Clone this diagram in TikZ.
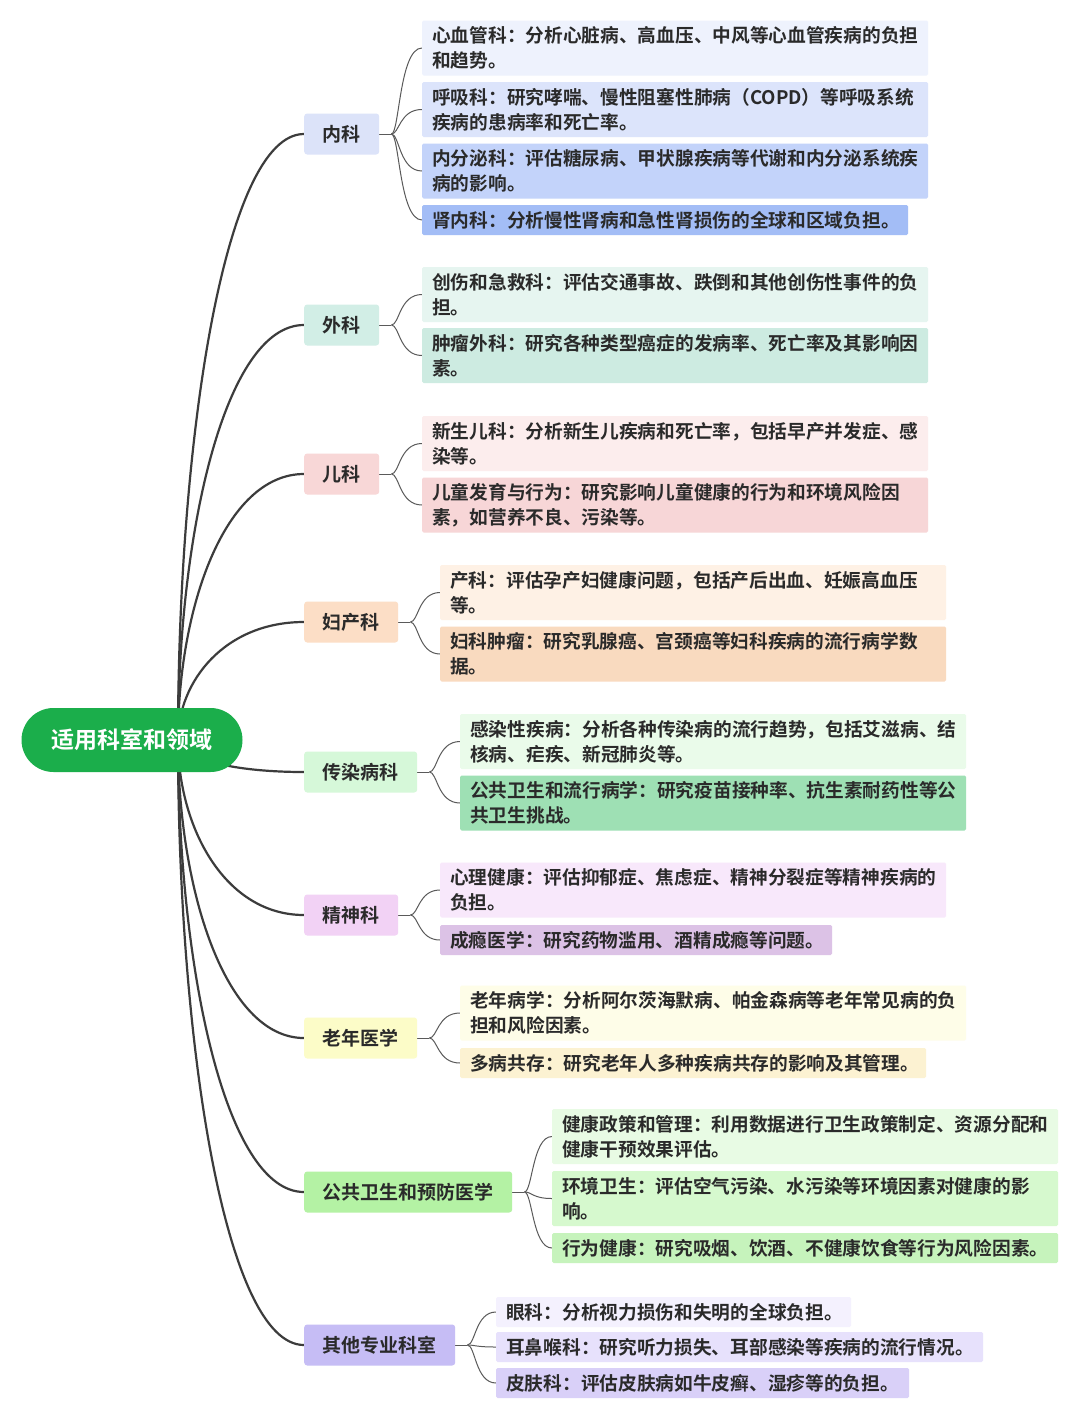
\documentclass[tikz,border=0pt]{standalone}
\usepackage{fontspec}
\setmainfont{Noto Sans CJK SC}[BoldFont={Noto Sans CJK SC Bold}]
\usetikzlibrary{calc}
\pgfdeclarelayer{back}
\pgfdeclarelayer{bg}
\pgfsetlayers{back,bg,main}
\definecolor{rootc}{HTML}{1BAE4B}
\definecolor{txt}{HTML}{2A2A2A}
\definecolor{trunkc}{HTML}{3C3C3C}
\definecolor{twigc}{HTML}{5A5A5A}
\definecolor{N1}{HTML}{DCE3F9}\definecolor{A1}{HTML}{EEF2FD}\definecolor{A2}{HTML}{DCE4FB}\definecolor{A3}{HTML}{C3D3FA}\definecolor{A4}{HTML}{A3BDF6}
\definecolor{N2}{HTML}{D2EEE6}\definecolor{B1}{HTML}{E6F5F0}\definecolor{B2}{HTML}{CDEBE1}
\definecolor{N3}{HTML}{F8D7D7}\definecolor{C1}{HTML}{FCEDED}\definecolor{C2}{HTML}{F7D6D7}
\definecolor{N4}{HTML}{FCDEC6}\definecolor{D1}{HTML}{FEF1E5}\definecolor{D2}{HTML}{F9DABF}
\definecolor{N5}{HTML}{D6F8D9}\definecolor{E1}{HTML}{EAFBEA}\definecolor{E2}{HTML}{9EE0B4}
\definecolor{N6}{HTML}{F2D2F5}\definecolor{F1}{HTML}{F8E8FB}\definecolor{F2}{HTML}{DCC2E6}
\definecolor{N7}{HTML}{FCFCC8}\definecolor{G1}{HTML}{FEFDE8}\definecolor{G2}{HTML}{FCF2D2}
\definecolor{N8}{HTML}{B4F2A4}\definecolor{H1}{HTML}{E8FBE4}\definecolor{H2}{HTML}{D6F9CE}\definecolor{H3}{HTML}{C6F3BC}
\definecolor{N9}{HTML}{C6BDF5}\definecolor{I1}{HTML}{F4F1FE}\definecolor{I2}{HTML}{E7E1FC}\definecolor{I3}{HTML}{D9D0F8}
\tikzset{
  rootbox/.style={rounded corners=32pt, fill=rootc, text=white, minimum width=221pt, minimum height=64pt, inner sep=0pt, font=\fontsize{23}{28}\selectfont\bfseries},
  topic/.style={anchor=west, rounded corners=3pt, inner xsep=18.5pt, inner ysep=0pt, minimum height=41pt, text=txt, font=\fontsize{19}{25}\selectfont\bfseries},
  leaf/.style={anchor=west, align=left, inner xsep=10pt, inner ysep=0pt, rounded corners=1.5pt, text=txt, font=\fontsize{18.7}{25}\selectfont\bfseries},
  two/.style={leaf, text width=486pt, minimum height=55pt},
  one/.style={leaf, text width=#1, minimum height=30pt},
  trunk/.style={draw=trunkc, line width=2.2pt},
  twig/.style={draw=twigc, line width=1pt},
}
\begin{document}
\begin{tikzpicture}[x=1pt,y=-1pt]
\begin{pgfonlayer}{back}
\fill[white] (0,0) rectangle (1080,1417);
\end{pgfonlayer}
\useasboundingbox (0,0) rectangle (1080,1417);
% root
\node[rootbox] (root) at (132,740) {适用科室和领域};
\coordinate (hub) at (178,740);
% topics
\node[topic, fill=N1] (n1) at (304,134) {内科};
\node[topic, fill=N2] (n2) at (304,325) {外科};
\node[topic, fill=N3] (n3) at (304,474) {儿科};
\node[topic, fill=N4] (n4) at (304,622) {妇产科};
\node[topic, fill=N5] (n5) at (304,772) {传染病科};
\node[topic, fill=N6] (n6) at (304,915) {精神科};
\node[topic, fill=N7] (n7) at (304,1038) {老年医学};
\node[topic, fill=N8] (n8) at (304,1192) {公共卫生和预防医学};
\node[topic, fill=N9] (n9) at (304,1345) {其他专业科室};
% leaves
\node[two, fill=A1] (a1) at (422,48) {心血管科：分析心脏病、高血压、中风等心血管疾病的负担\\和趋势。};
\node[two, fill=A2] (a2) at (422,109.5) {呼吸科：研究哮喘、慢性阻塞性肺病（COPD）等呼吸系统\\疾病的患病率和死亡率。};
\node[two, fill=A3] (a3) at (422,171) {内分泌科：评估糖尿病、甲状腺疾病等代谢和内分泌系统疾\\病的影响。};
\node[one=466pt, fill=A4] (a4) at (422,220) {肾内科：分析慢性肾病和急性肾损伤的全球和区域负担。};
\node[two, fill=B1] (b1) at (422,294.5) {创伤和急救科：评估交通事故、跌倒和其他创伤性事件的负\\担。};
\node[two, fill=B2] (b2) at (422,355.5) {肿瘤外科：研究各种类型癌症的发病率、死亡率及其影响因\\素。};
\node[two, fill=C1] (c1) at (422,443.5) {新生儿科：分析新生儿疾病和死亡率，包括早产并发症、感\\染等。};
\node[two, fill=C2] (c2) at (422,505) {儿童发育与行为：研究影响儿童健康的行为和环境风险因\\素，如营养不良、污染等。};
\node[two, fill=D1] (d1) at (440,592.5) {产科：评估孕产妇健康问题，包括产后出血、妊娠高血压\\等。};
\node[two, fill=D2] (d2) at (440,654) {妇科肿瘤：研究乳腺癌、宫颈癌等妇科疾病的流行病学数\\据。};
\node[two, fill=E1] (e1) at (460,741.5) {感染性疾病：分析各种传染病的流行趋势，包括艾滋病、结\\核病、疟疾、新冠肺炎等。};
\node[two, fill=E2] (e2) at (460,803) {公共卫生和流行病学：研究疫苗接种率、抗生素耐药性等公\\共卫生挑战。};
\node[two, fill=F1] (f1) at (440,890) {心理健康：评估抑郁症、焦虑症、精神分裂症等精神疾病的\\负担。};
\node[one=372pt, fill=F2] (f2) at (440,940) {成瘾医学：研究药物滥用、酒精成瘾等问题。};
\node[two, fill=G1] (g1) at (460,1013) {老年病学：分析阿尔茨海默病、帕金森病等老年常见病的负\\担和风险因素。};
\node[one=446pt, fill=G2] (g2) at (460,1063) {多病共存：研究老年人多种疾病共存的影响及其管理。};
\node[two, fill=H1] (h1) at (552,1136.5) {健康政策和管理：利用数据进行卫生政策制定、资源分配和\\健康干预效果评估。};
\node[two, fill=H2] (h2) at (552,1198.5) {环境卫生：评估空气污染、水污染等环境因素对健康的影\\响。};
\node[one=486pt, fill=H3] (h3) at (552,1248) {行为健康：研究吸烟、饮酒、不健康饮食等行为风险因素。};
\node[one=335pt, fill=I1] (i1) at (496,1312) {眼科：分析视力损伤和失明的全球负担。};
\node[one=467pt, fill=I2] (i2) at (496,1347) {耳鼻喉科：研究听力损失、耳部感染等疾病的流行情况。};
\node[one=393pt, fill=I3] (i3) at (496,1383) {皮肤科：评估皮肤病如牛皮癣、湿疹等的负担。};
% connectors
\begin{pgfonlayer}{bg}
\foreach \n in {n1,n2,n3,n4,n5,n6,n7,n8,n9}{
  \draw[trunk] (hub) .. controls ($(hub)!0.5!(hub|-\n.west)$) and ($(\n.west)+(-79,0)$) .. (\n.west);
}
\foreach \n/\leaves in {n1/{a1,a2,a3,a4}, n2/{b1,b2}, n3/{c1,c2}, n4/{d1,d2}, n5/{e1,e2}, n6/{f1,f2}, n7/{g1,g2}, n8/{h1,h2,h3}, n9/{i1,i2,i3}}{
  \draw[twig] (\n.east) -- ++(12,0) coordinate (j);
  \foreach \l in \leaves {
    \draw[twig] (j) .. controls ($(j)+(8,0)$) and ($(j|-\l.west)+(8,0)$) .. (\l.west);
  }
}
\end{pgfonlayer}
\end{tikzpicture}
\end{document}
